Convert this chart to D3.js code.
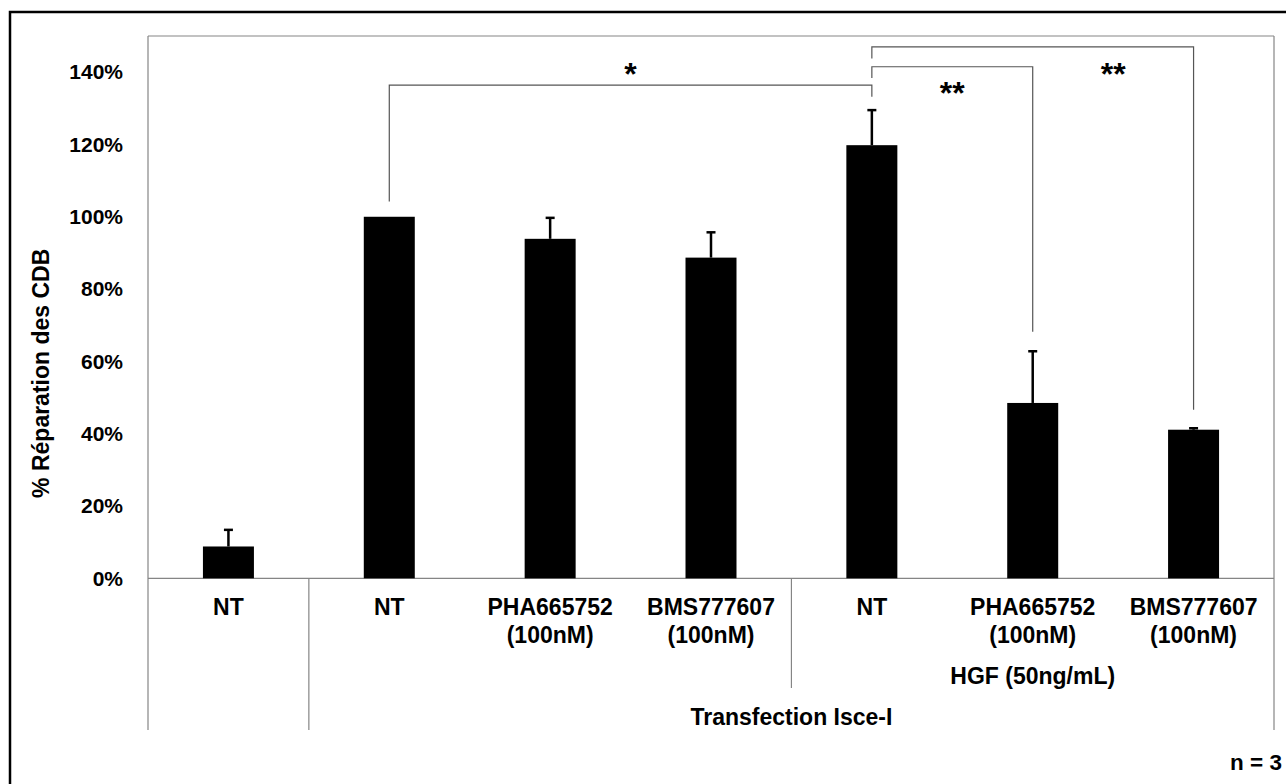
<!DOCTYPE html>
<html>
<head>
<meta charset="utf-8">
<script src="https://cdn.jsdelivr.net/npm/d3@7"></script>
<style>
  html, body { margin: 0; padding: 0; background: #fff; }
  svg { display: block; font-family: "Liberation Sans", Arial, sans-serif; font-weight: bold; }
</style>
</head>
<body>
<svg id="chart" width="1286" height="784"></svg>
<script>
// Conditions (first label line / second label line)
const categoryIds = ["ctl_nt", "tr_nt", "tr_pha", "tr_bms", "hgf_nt", "hgf_pha", "hgf_bms"];
const labelLine1 = ["NT", "NT", "PHA665752", "BMS777607", "NT", "PHA665752", "BMS777607"];
const labelLine2 = ["", "", "(100nM)", "(100nM)", "", "(100nM)", "(100nM)"];

// Mean DSB repair (%) and standard error
const repair = [8.8, 100, 93.9, 88.7, 119.8, 48.5, 41.1];
const errors = [4.6, 0, 5.8, 7.0, 9.7, 14.3, 0.4];

const yTicks = [0, 20, 40, 60, 80, 100, 120, 140];

// Grouping rows under the category labels
const groupHGF = { label: "HGF (50ng/mL)", from: 4, to: 6 };
const groupTransfection = { label: "Transfection Isce-I", from: 1, to: 6 };

// Significance brackets: compared categories, bracket level, leg ends (in %), marker
const brackets = [
  { a: 1, b: 4, level: 136.4, legA: 104.2, legB: 133.2, mark: "*",  markAt: [1, 4], markY: 141.3 },
  { a: 4, b: 5, level: 141.5, legA: 138.4, legB: 68.2,  mark: "**", markAt: [4, 5], markY: 136.2 },
  { a: 4, b: 6, level: 147.0, legA: 143.8, legB: 46.6,  mark: "**", markAt: [5, 6], markY: 141.4 }
];

const svg = d3.select("#chart");

const plotLeft = 148, plotRight = 1274, plotTop = 36, axisY = 578.3, frameBottom = 730;

const x = d3.scaleBand()
  .domain(categoryIds)
  .range([plotLeft, plotRight])
  .paddingInner(0.683)
  .paddingOuter(0.3415);

const y = d3.scaleLinear().domain([0, 150]).range([axisY, plotTop]);

const step = x.step();
const cx = i => x(categoryIds[i]) + x.bandwidth() / 2;
const slotLeft = i => cx(i) - step / 2;
const slotRight = i => cx(i) + step / 2;

// Outer figure border
svg.append("rect")
  .attr("x", 10).attr("y", 12)
  .attr("width", 1300).attr("height", 800)
  .attr("fill", "none").attr("stroke", "#000").attr("stroke-width", 2.5);

// Plot frame
const frame = svg.append("g").attr("stroke", "#858585").attr("stroke-width", 1.2).attr("fill", "none");
frame.append("line").attr("x1", plotLeft).attr("x2", plotRight).attr("y1", plotTop).attr("y2", plotTop);
frame.append("line").attr("x1", plotRight).attr("x2", plotRight).attr("y1", plotTop).attr("y2", frameBottom);
frame.append("line").attr("x1", plotLeft).attr("x2", plotLeft).attr("y1", plotTop).attr("y2", frameBottom);

// Y axis labels
const yAxis = d3.axisLeft(y)
  .tickValues(yTicks)
  .tickSize(0)
  .tickPadding(25)
  .tickFormat(d => d + "%");
const gy = svg.append("g").attr("transform", `translate(${plotLeft},0)`).call(yAxis);
gy.select(".domain").remove();
gy.selectAll("text")
  .attr("font-family", "Liberation Sans, Arial, sans-serif")
  .attr("font-weight", "bold")
  .attr("font-size", 21)
  .attr("fill", "#000");

// Y axis title
svg.append("text")
  .attr("transform", "translate(48.5,373.3) rotate(-90)")
  .attr("text-anchor", "middle")
  .attr("font-size", 23)
  .attr("fill", "#000")
  .text("% Réparation des CDB");

// X axis baseline
svg.append("line")
  .attr("x1", plotLeft).attr("x2", plotRight)
  .attr("y1", axisY).attr("y2", axisY)
  .attr("stroke", "#858585").attr("stroke-width", 1.2);

// Group separators in the category area
const sep = svg.append("g").attr("stroke", "#858585").attr("stroke-width", 1.2);
sep.append("line")
  .attr("x1", slotLeft(groupTransfection.from)).attr("x2", slotLeft(groupTransfection.from))
  .attr("y1", axisY).attr("y2", frameBottom);
sep.append("line")
  .attr("x1", slotLeft(groupHGF.from)).attr("x2", slotLeft(groupHGF.from))
  .attr("y1", axisY).attr("y2", 688);

// Bars
svg.append("g").selectAll("rect")
  .data(repair)
  .join("rect")
  .attr("x", (d, i) => x(categoryIds[i]))
  .attr("width", x.bandwidth())
  .attr("y", d => y(d))
  .attr("height", d => y(0) - y(d))
  .attr("fill", "#000");

// Error bars (upper only)
const eb = svg.append("g").attr("stroke", "#000");
repair.forEach((v, i) => {
  if (errors[i] <= 0) return;
  eb.append("line")
    .attr("x1", cx(i)).attr("x2", cx(i))
    .attr("y1", y(v)).attr("y2", y(v + errors[i]))
    .attr("stroke-width", 2.5);
  eb.append("line")
    .attr("x1", cx(i) - 4.5).attr("x2", cx(i) + 4.5)
    .attr("y1", y(v + errors[i])).attr("y2", y(v + errors[i]))
    .attr("stroke-width", 2.5);
});

// Category labels
const lab = svg.append("g").attr("text-anchor", "middle").attr("font-size", 23).attr("fill", "#000");
categoryIds.forEach((id, i) => {
  lab.append("text").attr("x", cx(i)).attr("y", 615).text(labelLine1[i]);
  if (labelLine2[i]) lab.append("text").attr("x", cx(i)).attr("y", 642.5).text(labelLine2[i]);
});
lab.append("text")
  .attr("x", (slotLeft(groupHGF.from) + slotRight(groupHGF.to)) / 2)
  .attr("y", 683.5)
  .text(groupHGF.label);
lab.append("text")
  .attr("x", (slotLeft(groupTransfection.from) + slotRight(groupTransfection.to)) / 2)
  .attr("y", 725)
  .text(groupTransfection.label);

// Significance brackets
const br = svg.append("g");
brackets.forEach(b => {
  const xa = cx(b.a), xb = cx(b.b), yl = y(b.level);
  br.append("path")
    .attr("d", `M${xa},${y(b.legA)}V${yl}H${xb}V${y(b.legB)}`)
    .attr("fill", "none")
    .attr("stroke", "#555")
    .attr("stroke-width", 1.2);
  br.append("text")
    .attr("x", (cx(b.markAt[0]) + cx(b.markAt[1])) / 2)
    .attr("y", y(b.markY) + 18)
    .attr("text-anchor", "middle")
    .attr("font-size", 32)
    .attr("fill", "#000")
    .text(b.mark);
});

// Sample size note
svg.append("text")
  .attr("x", 1282).attr("y", 769.5)
  .attr("text-anchor", "end")
  .attr("font-size", 22.5)
  .attr("fill", "#000")
  .text("n = 3");
</script>
</body>
</html>
